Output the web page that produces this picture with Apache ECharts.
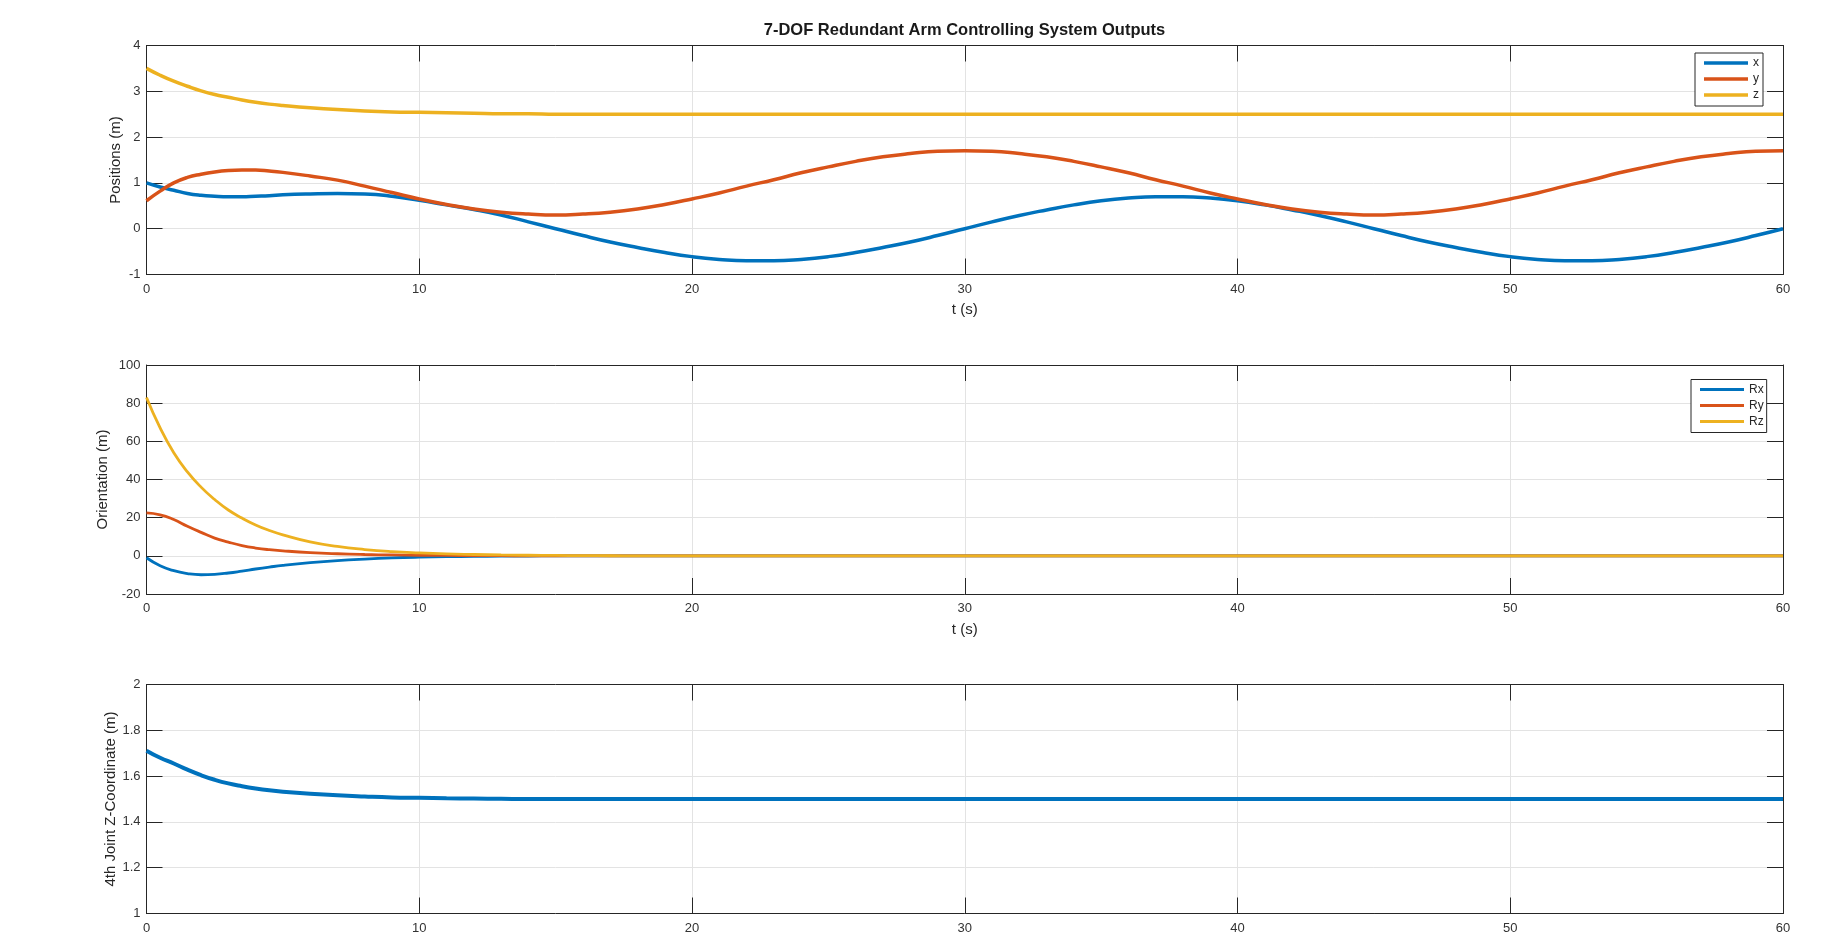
<!DOCTYPE html>
<html>
<head>
<meta charset="utf-8">
<script src="https://cdn.jsdelivr.net/npm/echarts@6/dist/echarts.min.js"></script>
<style>
html,body{margin:0;padding:0;background:#fff;}
#chart{width:1845px;height:940px;}
</style>
</head>
<body>
<div id="chart"></div>
<script>
// ---- Data ----
const titleText = '7-DOF Redundant Arm Controlling System Outputs';
const T = [0,0.5,1,1.5,2,2.5,3,3.5,4,4.5,5,6,7,8,9,10,11,12,13,14,15,16,17,18,19,20,21,22,23,24,25,26,27,28,29,30,31,32,33,34,35,36,37,38,39,40,41,42,43,44,45,46,47,48,49,50,51,52,53,54,55,56,57,58,59,60];

const posX = [1.00,0.91,0.84,0.77,0.73,0.71,0.70,0.70,0.71,0.72,0.74,0.76,0.77,0.76,0.71,0.62,0.52,0.42,0.30,0.15,0.00,-0.15,-0.29,-0.41,-0.52,-0.61,-0.67,-0.70,-0.70,-0.67,-0.61,-0.52,-0.41,-0.29,-0.15,0.00,0.15,0.29,0.41,0.52,0.61,0.67,0.70,0.70,0.67,0.61,0.52,0.41,0.29,0.15,0.00,-0.15,-0.29,-0.41,-0.52,-0.61,-0.67,-0.70,-0.70,-0.67,-0.61,-0.52,-0.41,-0.29,-0.15,0.00];
const posY = [0.61,0.82,1.00,1.12,1.19,1.24,1.27,1.28,1.28,1.26,1.23,1.15,1.06,0.93,0.79,0.65,0.53,0.43,0.36,0.32,0.30,0.32,0.36,0.43,0.53,0.65,0.78,0.93,1.07,1.22,1.35,1.47,1.57,1.64,1.69,1.70,1.69,1.64,1.57,1.47,1.35,1.22,1.07,0.93,0.78,0.65,0.53,0.43,0.36,0.32,0.30,0.32,0.36,0.43,0.53,0.65,0.78,0.93,1.07,1.22,1.35,1.47,1.57,1.64,1.69,1.70];
const posZ = [3.50,3.35,3.22,3.11,3.01,2.93,2.87,2.81,2.76,2.72,2.69,2.64,2.60,2.57,2.55,2.54,2.53,2.52,2.51,2.51,2.50,2.50,2.50,2.50,2.50,2.50,2.50,2.50,2.50,2.50,2.50,2.50,2.50,2.50,2.50,2.50,2.50,2.50,2.50,2.50,2.50,2.50,2.50,2.50,2.50,2.50,2.50,2.50,2.50,2.50,2.50,2.50,2.50,2.50,2.50,2.50,2.50,2.50,2.50,2.50,2.50,2.50,2.50,2.50,2.50,2.50];

const rotX = [-1.0,-5.2,-7.8,-9.3,-9.9,-9.7,-9.0,-8.0,-6.9,-5.9,-5.0,-3.6,-2.5,-1.7,-1.1,-0.7,-0.45,-0.3,-0.2,-0.1,-0.05,0,0,0,0,0,0,0,0,0,0,0,0,0,0,0,0,0,0,0,0,0,0,0,0,0,0,0,0,0,0,0,0,0,0,0,0,0,0,0,0,0,0,0,0,0];
const rotY = [22.5,21.5,19.0,15.5,12.3,9.3,7.2,5.4,4.1,3.2,2.6,1.7,1.1,0.7,0.45,0.3,0.2,0.12,0.07,0.04,0.02,0,0,0,0,0,0,0,0,0,0,0,0,0,0,0,0,0,0,0,0,0,0,0,0,0,0,0,0,0,0,0,0,0,0,0,0,0,0,0,0,0,0,0,0,0];
const rotZ = [83,67,54,44,36,29.5,24,19.8,16.2,13.3,11,7.3,4.9,3.3,2.2,1.5,1.0,0.7,0.45,0.3,0.2,0.1,0.05,0,0,0,0,0,0,0,0,0,0,0,0,0,0,0,0,0,0,0,0,0,0,0,0,0,0,0,0,0,0,0,0,0,0,0,0,0,0,0,0,0,0,0];

const joint4Z = [1.711,1.68,1.655,1.628,1.604,1.584,1.568,1.556,1.546,1.538,1.532,1.523,1.516,1.511,1.507,1.505,1.503,1.502,1.501,1.500,1.500,1.500,1.500,1.500,1.500,1.500,1.500,1.500,1.500,1.500,1.500,1.500,1.500,1.500,1.500,1.500,1.500,1.500,1.500,1.500,1.500,1.500,1.500,1.500,1.500,1.500,1.500,1.500,1.500,1.500,1.500,1.500,1.500,1.500,1.500,1.500,1.500,1.500,1.500,1.500,1.500,1.500,1.500,1.500,1.500,1.500];

const xTicks = {min:0, max:60, interval:10};
const yTicks = [
  {min:-1, max:4, interval:1},
  {min:-20, max:100, interval:20},
  {min:1, max:2, interval:0.2}
];
const yNames = ['Positions (m)', 'Orientation (m)', '4th Joint Z-Coordinate (m)'];
const xName = 't (s)';
const legend1 = ['x','y','z'];
const legend2 = ['Rx','Ry','Rz'];
const colors = ['#0072BD','#D95319','#EDB120'];

// ---- Layout ----
const FONT = '"Liberation Sans", Arial, Helvetica, sans-serif';
const AX = '#262626';
const tops = [45.5, 365, 684.5];
const gridH = 229;
const yNameGaps = [23, 36, 28];

const grids = tops.map(t => ({left:146.5, right:62, top:t, height:gridH, outerBoundsMode:'none', containLabel:false}));

const xAxes = [], yAxes = [];
for (let g = 0; g < 3; g++) {
  xAxes.push({
    type:'value', gridIndex:g, position:'bottom', min:xTicks.min, max:xTicks.max, interval:xTicks.interval,
    name: g < 2 ? xName : '', nameLocation:'middle', nameGap:28, nameMoveOverlap:false,
    nameTextStyle:{fontFamily:FONT, fontSize:15, color:AX},
    axisLine:{show:true, onZero:false, lineStyle:{color:AX, width:1}},
    axisTick:{show:true, inside:true, length:16, lineStyle:{color:AX}},
    axisLabel:{show:true, margin:8, fontFamily:FONT, fontSize:13, color:'#333'},
    splitLine:{show:true, lineStyle:{color:'#e3e3e3', width:1}}
  });
  xAxes.push({
    type:'value', gridIndex:g, position:'top', min:xTicks.min, max:xTicks.max, interval:xTicks.interval,
    axisLine:{show:true, onZero:false, lineStyle:{color:AX, width:1}},
    axisTick:{show:true, inside:true, length:16, lineStyle:{color:AX}},
    axisLabel:{show:false}, splitLine:{show:false}
  });
  const yt = yTicks[g];
  yAxes.push({
    type:'value', gridIndex:g, position:'left', min:yt.min, max:yt.max, interval:yt.interval,
    name:yNames[g], nameLocation:'middle', nameGap:yNameGaps[g], nameRotate:90, nameMoveOverlap:false,
    nameTextStyle:{fontFamily:FONT, fontSize:15, color:AX},
    axisLine:{show:true, onZero:false, lineStyle:{color:AX, width:1}},
    axisTick:{show:true, inside:true, length:16, lineStyle:{color:AX}},
    axisLabel:{show:true, margin:6, fontFamily:FONT, fontSize:13, color:'#333',
      formatter: v => String(Number(v.toFixed(1)))},
    splitLine:{show:true, lineStyle:{color:'#e3e3e3', width:1}}
  });
  yAxes.push({
    type:'value', gridIndex:g, position:'right', min:yt.min, max:yt.max, interval:yt.interval,
    axisLine:{show:true, onZero:false, lineStyle:{color:AX, width:1}},
    axisTick:{show:true, inside:true, length:16, lineStyle:{color:AX}},
    axisLabel:{show:false}, splitLine:{show:false}
  });
}

function mk(name, arr, g, color, width) {
  return {
    name, type:'line', xAxisIndex:2*g, yAxisIndex:2*g, data:T.map((t,i)=>[t, arr[i]]),
    showSymbol:false, symbol:'none', smooth:0.5,
    lineStyle:{color, width}, itemStyle:{color}, z:3
  };
}

const series = [
  mk('x', posX, 0, colors[0], 3.5),
  mk('y', posY, 0, colors[1], 3.5),
  mk('z', posZ, 0, colors[2], 3.5),
  mk('Rx', rotX, 1, colors[0], 2.8),
  mk('Ry', rotY, 1, colors[1], 2.8),
  mk('Rz', rotZ, 1, colors[2], 2.8),
  mk('4th Joint Z', joint4Z, 2, colors[0], 4)
];

const legendBase = {
  orient:'vertical', icon:'rect', itemWidth:44, itemGap:4,
  textStyle:{fontFamily:FONT, fontSize:12, lineHeight:12, color:AX},
  borderColor:AX, borderWidth:1, backgroundColor:'#fff', selectedMode:false, z:10
};

const option = {
  animation:false,
  backgroundColor:'#fff',
  title:{text:titleText, left:964.5, textAlign:'center', top:22, padding:0,
    textStyle:{fontFamily:FONT, fontSize:16.5, fontWeight:'bold', color:'#1a1a1a'}},
  grid:grids,
  xAxis:xAxes,
  yAxis:yAxes,
  legend:[
    Object.assign({}, legendBase, {data:legend1, left:1695, top:53, itemHeight:3.5, padding:[4,4,5,9]}),
    Object.assign({}, legendBase, {data:legend2, left:1691, top:379.5, itemHeight:2.8, padding:[4,3,5,9]})
  ],
  series
};

const chart = echarts.init(document.getElementById('chart'), null, {renderer:'canvas'});
chart.setOption(option);
</script>
</body>
</html>
